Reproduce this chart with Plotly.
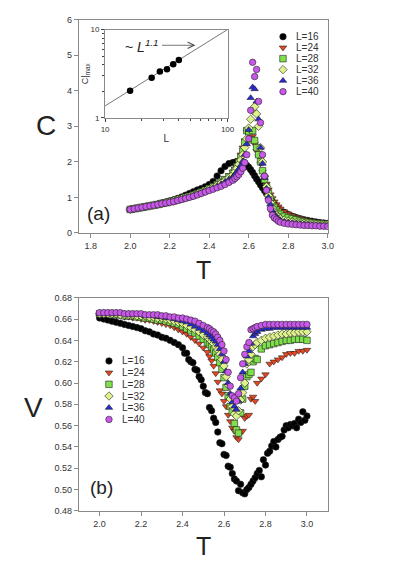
import plotly.graph_objects as go

# temperature grid shared by most series
T = [2.00, 2.02, 2.04, 2.06, 2.08, 2.10, 2.12, 2.14, 2.16, 2.18, 2.20, 2.22, 2.24,
     2.26, 2.28, 2.30, 2.32, 2.34, 2.36, 2.38, 2.40, 2.42, 2.44, 2.46, 2.48, 2.50,
     2.52, 2.53, 2.54, 2.55, 2.56, 2.57, 2.58, 2.59, 2.60, 2.61, 2.62, 2.63, 2.64,
     2.65, 2.66, 2.67, 2.68, 2.69, 2.70, 2.71, 2.72, 2.73, 2.74, 2.75, 2.76,
     2.78, 2.80, 2.82, 2.84, 2.86, 2.88, 2.90, 2.92, 2.94, 2.96, 2.98, 3.00]

# finer grid for the L=16 order parameter
T16_V = [2.00, 2.02, 2.04, 2.06, 2.08, 2.10, 2.12, 2.14, 2.16, 2.18, 2.20, 2.22, 2.24,
         2.26, 2.28, 2.30, 2.32, 2.34, 2.36, 2.38, 2.40,
         2.41, 2.42, 2.43, 2.44, 2.45, 2.46, 2.47, 2.48, 2.49, 2.50,
         2.51, 2.52, 2.53, 2.54, 2.55, 2.56, 2.57, 2.58, 2.59, 2.60,
         2.61, 2.62, 2.63, 2.64, 2.65, 2.66, 2.67, 2.68, 2.69, 2.70,
         2.71, 2.72, 2.73, 2.74, 2.75, 2.76, 2.77, 2.78, 2.79, 2.80,
         2.81, 2.82, 2.83, 2.84, 2.85, 2.86, 2.87, 2.88, 2.89, 2.90,
         2.91, 2.92, 2.93, 2.94, 2.95, 2.96, 2.97, 2.98, 2.99, 3.00]

# specific heat C(T)
C16 = [0.66, 0.68, 0.70, 0.72, 0.74, 0.76, 0.78, 0.81, 0.84, 0.87, 0.90, 0.93, 0.97,
       1.01, 1.06, 1.11, 1.16, 1.21, 1.25, 1.30, 1.36, 1.45, 1.60, 1.75, 1.87, 1.95,
       1.98, 1.99, 2.00, 2.00, 1.99, 1.98, 1.95, 1.90, 1.85, 1.78, 1.70, 1.61, 1.52,
       1.44, 1.35, 1.27, 1.19, 1.11, 1.03, 0.95, 0.87, 0.80, 0.73, 0.68, 0.64,
       0.58, 0.52, 0.47, 0.43, 0.40, 0.37, 0.35, 0.33, 0.31, 0.29, 0.28, 0.27]
C24 = [0.66, 0.68, 0.70, 0.72, 0.74, 0.76, 0.78, 0.81, 0.83, 0.86, 0.88, 0.91, 0.94,
       0.97, 1.01, 1.05, 1.09, 1.13, 1.18, 1.23, 1.28, 1.34, 1.40, 1.47, 1.54, 1.62,
       1.72, 1.80, 1.92, 2.05, 2.20, 2.40, 2.60, 2.85, 2.75, 2.65, 2.72, 2.50, 2.30,
       2.15, 1.95, 1.72, 1.55, 1.38, 1.22, 1.08, 0.97, 0.88, 0.80, 0.74, 0.68,
       0.60, 0.54, 0.49, 0.45, 0.42, 0.39, 0.36, 0.34, 0.32, 0.30, 0.28, 0.27]
C28 = [0.66, 0.68, 0.70, 0.72, 0.74, 0.76, 0.78, 0.80, 0.83, 0.85, 0.88, 0.90, 0.93,
       0.96, 1.00, 1.03, 1.07, 1.11, 1.15, 1.20, 1.25, 1.30, 1.36, 1.43, 1.50, 1.58,
       1.68, 1.76, 1.86, 1.98, 2.12, 2.30, 2.55, 2.88, 2.85, 2.62, 2.88, 2.60, 2.40,
       2.20, 2.00, 1.75, 1.50, 1.30, 1.12, 0.96, 0.82, 0.72, 0.64, 0.58, 0.53,
       0.47, 0.43, 0.40, 0.37, 0.34, 0.32, 0.30, 0.28, 0.27, 0.26, 0.25, 0.24]
C32 = [0.66, 0.68, 0.70, 0.72, 0.74, 0.76, 0.78, 0.80, 0.82, 0.85, 0.87, 0.90, 0.93,
       0.96, 0.99, 1.02, 1.06, 1.10, 1.14, 1.18, 1.23, 1.28, 1.34, 1.40, 1.47, 1.55,
       1.64, 1.72, 1.82, 1.93, 2.05, 2.20, 2.40, 2.65, 2.95, 3.20, 3.45, 3.55, 3.35,
       3.00, 2.40, 2.00, 1.60, 1.30, 1.05, 0.85, 0.70, 0.58, 0.50, 0.44, 0.40,
       0.36, 0.33, 0.31, 0.29, 0.28, 0.27, 0.26, 0.25, 0.24, 0.23, 0.22, 0.22]
C36 = [0.66, 0.68, 0.70, 0.72, 0.74, 0.76, 0.78, 0.80, 0.82, 0.84, 0.87, 0.89, 0.92,
       0.95, 0.98, 1.01, 1.05, 1.09, 1.13, 1.17, 1.21, 1.26, 1.31, 1.37, 1.44, 1.51,
       1.58, 1.64, 1.72, 1.80, 1.90, 2.02, 2.20, 2.50, 2.90, 3.80, 4.10, 4.05, 3.70,
       3.20, 2.40, 1.95, 1.55, 1.25, 1.00, 0.80, 0.63, 0.52, 0.45, 0.40, 0.36,
       0.32, 0.30, 0.28, 0.27, 0.26, 0.25, 0.24, 0.23, 0.22, 0.22, 0.21, 0.21]
C40 = [0.66, 0.68, 0.70, 0.72, 0.74, 0.76, 0.78, 0.80, 0.82, 0.84, 0.86, 0.88, 0.91,
       0.94, 0.97, 1.00, 1.03, 1.07, 1.11, 1.15, 1.19, 1.23, 1.27, 1.31, 1.36, 1.42,
       1.48, 1.53, 1.58, 1.64, 1.72, 1.82, 1.98, 2.20, 2.65, 3.45, 4.80, 4.40, 4.60,
       3.70, 3.10, 2.20, 1.60, 1.20, 0.92, 0.68, 0.50, 0.42, 0.38, 0.33, 0.30,
       0.27, 0.25, 0.24, 0.23, 0.22, 0.21, 0.21, 0.20, 0.20, 0.19, 0.19, 0.18]

# order parameter V(T)
V16 = [0.661, 0.660, 0.659, 0.658, 0.657, 0.656, 0.655, 0.654, 0.653, 0.652, 0.651,
       0.649, 0.648, 0.646, 0.645, 0.643, 0.642, 0.640, 0.638, 0.636, 0.633,
       0.628, 0.628, 0.622, 0.620, 0.619, 0.613, 0.612, 0.606, 0.603, 0.597,
       0.591, 0.590, 0.577, 0.574, 0.567, 0.563, 0.554, 0.544, 0.543, 0.533,
       0.532, 0.522, 0.521, 0.515, 0.510, 0.508, 0.499, 0.505, 0.497, 0.496,
       0.500, 0.502, 0.505, 0.508, 0.511, 0.515, 0.518, 0.512, 0.528, 0.523,
       0.534, 0.536, 0.541, 0.545, 0.540, 0.547, 0.549, 0.550, 0.556, 0.560,
       0.558, 0.561, 0.560, 0.562, 0.558, 0.566, 0.563, 0.573, 0.565, 0.569]
V24 = [0.664, 0.664, 0.664, 0.663, 0.663, 0.663, 0.662, 0.662, 0.661, 0.661, 0.660,
       0.659, 0.659, 0.658, 0.657, 0.656, 0.655, 0.654, 0.652, 0.650, 0.648, 0.646,
       0.643, 0.640, 0.637, 0.633,
       0.629, 0.625, 0.621, 0.616, 0.609, 0.601, 0.593, 0.590, 0.583, 0.578, 0.570,
       0.564, 0.558, 0.555, 0.549, 0.547, 0.553, 0.555, 0.567, 0.569, 0.570, 0.585,
       0.587, 0.583, 0.600,
       0.604, 0.608, 0.618, 0.620, 0.622, 0.624, 0.627, 0.628, 0.628, 0.630, 0.630, 0.631]
V28 = [0.665, 0.665, 0.665, 0.664, 0.664, 0.664, 0.663, 0.663, 0.663, 0.662, 0.662,
       0.661, 0.661, 0.660, 0.659, 0.659, 0.658, 0.657, 0.656, 0.655, 0.653, 0.651,
       0.649, 0.647, 0.644, 0.641,
       0.638, 0.636, 0.634, 0.631, 0.628, 0.624, 0.619, 0.613, 0.605, 0.596, 0.588,
       0.578, 0.573, 0.562, 0.556, 0.553, 0.572, 0.585, 0.597, 0.606, 0.608, 0.610,
       0.620, 0.623, 0.622,
       0.632, 0.635, 0.636, 0.637, 0.638, 0.639, 0.640, 0.640, 0.641, 0.641, 0.641, 0.640]
V32 = [0.665, 0.665, 0.665, 0.665, 0.665, 0.664, 0.664, 0.664, 0.664, 0.663, 0.663,
       0.663, 0.662, 0.662, 0.661, 0.661, 0.660, 0.659, 0.658, 0.657, 0.656, 0.654,
       0.652, 0.650, 0.648, 0.645,
       0.643, 0.641, 0.639, 0.637, 0.634, 0.631, 0.627, 0.622, 0.616, 0.606, 0.598,
       0.585, 0.578, 0.571, 0.569, 0.574, 0.584, 0.591, 0.600, 0.618, 0.622, 0.627,
       0.634, 0.636, 0.638,
       0.640, 0.642, 0.643, 0.644, 0.645, 0.646, 0.646, 0.647, 0.647, 0.648, 0.648, 0.648]
V36 = [0.665, 0.665, 0.665, 0.665, 0.665, 0.665, 0.665, 0.664, 0.664, 0.664, 0.664,
       0.663, 0.663, 0.663, 0.662, 0.662, 0.661, 0.661, 0.660, 0.659, 0.658, 0.657,
       0.655, 0.653, 0.651, 0.649,
       0.647, 0.645, 0.643, 0.641, 0.639, 0.636, 0.632, 0.627, 0.620, 0.611, 0.600,
       0.590, 0.582, 0.578, 0.575, 0.583, 0.595, 0.610, 0.618, 0.625, 0.630, 0.637,
       0.644, 0.646, 0.648,
       0.650, 0.651, 0.651, 0.652, 0.652, 0.652, 0.652, 0.652, 0.652, 0.652, 0.652, 0.652]
V40 = [0.666, 0.666, 0.666, 0.666, 0.666, 0.666, 0.665, 0.665, 0.665, 0.665, 0.665,
       0.664, 0.664, 0.664, 0.664, 0.663, 0.663, 0.662, 0.662, 0.661, 0.661, 0.660,
       0.659, 0.658, 0.656, 0.654,
       0.652, 0.651, 0.649, 0.648, 0.646, 0.643, 0.640, 0.636, 0.630, 0.622, 0.610,
       0.597, 0.588, 0.586, 0.583, 0.590, 0.605, 0.618, 0.627, 0.634, 0.638, 0.650,
       0.651, 0.652, 0.653,
       0.654, 0.655, 0.655, 0.655, 0.655, 0.655, 0.655, 0.655, 0.655, 0.655, 0.655, 0.655]

# inset: peak height vs system size, with power-law guide line
L_SIZES = [16, 24, 28, 32, 36, 40]
C_MAX = [2.03, 2.85, 3.36, 3.56, 4.05, 4.52]
FIT_L = [10, 100]
FIT_C = [1.37, 10]

LABELS = ["L=16", "L=24", "L=28", "L=32", "L=36", "L=40"]
SYMBOLS = ["circle", "triangle-down", "square", "diamond", "triangle-up", "circle"]
COLORS = ["#000000", "#e8461e", "#7fe04c", "#ddf28c", "#2a2ad6", "#c858ea"]
C_SERIES = [C16, C24, C28, C32, C36, C40]
V_SERIES = [V16, V24, V28, V32, V36, V40]

W, H = 394, 566
FONT = "Liberation Sans, Arial, sans-serif"
AX = "#8a8a8a"


def px(x):
    return x / W


def py(y):
    return 1 - y / H


def marker(i):
    return dict(symbol=SYMBOLS[i], size=6.5, color=COLORS[i],
                line=dict(color="#222222", width=0.6))


fig = go.Figure()

for i in range(6):
    fig.add_trace(go.Scatter(x=T, y=C_SERIES[i], mode="markers", marker=marker(i),
                             name=LABELS[i], xaxis="x", yaxis="y", showlegend=False))
    fig.add_trace(go.Scatter(x=T16_V if i == 0 else T, y=V_SERIES[i], mode="markers",
                             marker=marker(i), name=LABELS[i], xaxis="x2", yaxis="y2",
                             showlegend=False))

fig.add_trace(go.Scatter(x=FIT_L, y=FIT_C, mode="lines", line=dict(color="#777777", width=1),
                         xaxis="x3", yaxis="y3", showlegend=False))
fig.add_trace(go.Scatter(x=L_SIZES, y=C_MAX, mode="markers",
                         marker=dict(size=6.5, color="black"),
                         xaxis="x3", yaxis="y3", showlegend=False))

# hand-made legends: one key per row on small hidden axes (row = label index)
for xa, ya in (("x4", "y4"), ("x5", "y5")):
    for i in range(6):
        fig.add_trace(go.Scatter(x=[0], y=[i], mode="markers", marker=marker(i),
                                 xaxis=xa, yaxis=ya, showlegend=False, hoverinfo="skip"))
        fig.add_annotation(x=0, y=i, xref=xa, yref=ya, text=LABELS[i], showarrow=False,
                           xanchor="left", yanchor="middle", xshift=11,
                           font=dict(size=10, color="#333333"))

axis_common = dict(showline=True, linecolor=AX, linewidth=1, mirror=True,
                   ticks="outside", tickcolor=AX, ticklen=4, showgrid=False,
                   zeroline=False, tickfont=dict(size=9, color="#333333"))
inset_common = dict(type="log", showline=True, linecolor=AX, mirror=True,
                    ticks="outside", ticklen=3, tickcolor="#444444", showgrid=False,
                    tickfont=dict(size=8, color="#333333"))
hidden = dict(visible=False, showgrid=False, zeroline=False)

fig.update_layout(
    width=W, height=H, margin=dict(l=0, r=0, t=0, b=0),
    paper_bgcolor="white", plot_bgcolor="white",
    font=dict(family=FONT, color="#222222"),
    showlegend=False,
    xaxis=dict(domain=[px(77), px(333)], anchor="y", range=[1.74, 3.0],
               tickvals=[1.8, 2.0, 2.2, 2.4, 2.6, 2.8, 3.0],
               ticktext=["1.8", "2.0", "2.2", "2.4", "2.6", "2.8", "3.0"], **axis_common),
    yaxis=dict(domain=[py(232), py(15)], anchor="x", range=[0, 6], dtick=1, **axis_common),
    xaxis2=dict(domain=[px(77), px(333)], anchor="y2", range=[1.9, 3.1],
                tickvals=[2.0, 2.2, 2.4, 2.6, 2.8, 3.0],
                ticktext=["2.0", "2.2", "2.4", "2.6", "2.8", "3.0"], **axis_common),
    yaxis2=dict(domain=[py(515), py(298)], anchor="x2", range=[0.48, 0.68],
                tickvals=[0.48, 0.50, 0.52, 0.54, 0.56, 0.58, 0.60, 0.62, 0.64, 0.66, 0.68],
                tickformat=".2f", **axis_common),
    xaxis3=dict(domain=[px(104), px(230)], anchor="y3", range=[1, 2],
                tickvals=[10, 100], ticktext=["10", "100"],
                title=dict(text="L", font=dict(size=10, color="#333333"), standoff=2),
                minor=dict(tickvals=[20, 30, 40, 50, 60, 70, 80, 90], ticks="outside",
                           ticklen=2, tickcolor="#444444"),
                **inset_common),
    yaxis3=dict(domain=[py(115), py(25)], anchor="x3", range=[0, 1],
                tickvals=[1, 10], ticktext=["1", "10"],
                title=dict(text="C|<sub>max</sub>", font=dict(size=9, color="#333333"),
                           standoff=0),
                minor=dict(tickvals=[2, 3, 4, 5, 6, 7, 8, 9], ticks="outside",
                           ticklen=2, tickcolor="#444444"),
                **inset_common),
    xaxis4=dict(domain=[px(281), px(293)], anchor="y4", range=[-1, 1], **hidden),
    yaxis4=dict(domain=[py(93.8), py(26.6)], anchor="x4", range=[5.5, -0.5], **hidden),
    xaxis5=dict(domain=[px(102), px(114)], anchor="y5", range=[-1, 1], **hidden),
    yaxis5=dict(domain=[py(427.8), py(356.4)], anchor="x5", range=[5.5, -0.5], **hidden),
)

notes = [
    dict(x=px(43), y=py(123), text="C", size=28),
    dict(x=px(205), y=py(270), text="T", size=25),
    dict(x=px(30), y=py(410), text="V", size=28),
    dict(x=px(205), y=py(551), text="T", size=25),
    dict(x=px(97), y=py(212), text="(a)", size=19),
    dict(x=px(100), y=py(491), text="(b)", size=19),
    dict(x=px(142), y=py(42), text="~ <i>L</i><sup><i>1.1</i></sup>", size=14),
]
for n in notes:
    fig.add_annotation(x=n["x"], y=n["y"], xref="paper", yref="paper", text=n["text"],
                       showarrow=False, font=dict(size=n["size"], color="#222222"),
                       xanchor="center", yanchor="middle")
# arrow pointing along the guide line
fig.add_annotation(x=px(197), y=py(41), xref="paper", yref="paper", ax=-35, ay=0,
                   text="", showarrow=True,
                   arrowhead=5, arrowsize=1.6, arrowwidth=0.8, arrowcolor="#555555")

fig.write_html("out.html", config={"displayModeBar": False},
               post_script="document.body.style.margin='0';")
